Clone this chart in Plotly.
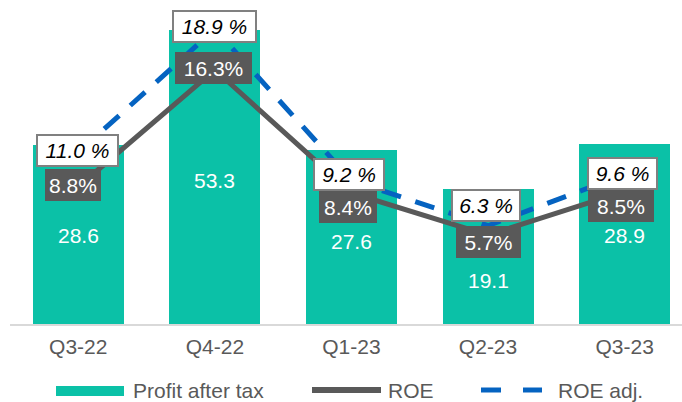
import plotly.graph_objects as go

# ---- data ----
quarters = ["Q3-22", "Q4-22", "Q1-23", "Q2-23", "Q3-23"]
profit_after_tax = [28.6, 53.3, 27.6, 19.1, 28.9]
roe = [8.8, 16.3, 8.4, 5.7, 8.5]
roe_adj = [11.0, 18.9, 9.2, 6.3, 9.6]

# ---- style ----
W, H = 682, 402
ML, MR, MT, MB = 10, 0, 0, 78
PLOT_W = W - ML - MR
PLOT_H = H - MT - MB
TEAL = "#0bc1a7"
DARK = "#595959"
BLUE = "#0563c1"
FONT = "Liberation Sans, Arial, sans-serif"
FS = 21

Y_MIN, Y_MAX = -9.8, 59.8        # primary axis (profit)
Y2_MAX = 20.77                   # secondary axis (%)
X_RANGE = [-0.5, 4.42]

# label placement tweaks (pixels / data units)
bar_label_y = [9.3, 21.1, 8.0, -0.35, 9.3]
roe_shift_y = [2, 2, -14, -7, -15]
roe_shift_x = [-5, -1, -3, 0, -4]
roe_box_w = [56, 77, 58, 65, 66]
adj_shift_y = [2, 3, 6, 20, 1]
adj_shift_x = [-1, 0, -2, -2, -2]
adj_box_w = [83, 85, 72, 70, 71]

idx = list(range(len(quarters)))

fig = go.Figure()
fig.add_trace(go.Bar(
    x=idx, y=[v - Y_MIN for v in profit_after_tax], base=Y_MIN,
    width=0.666, marker=dict(color=TEAL, line=dict(width=0)),
    name="Profit after tax", showlegend=False, hoverinfo="skip",
))
fig.add_trace(go.Scatter(
    x=idx, y=roe, yaxis="y2", mode="lines",
    line=dict(color=DARK, width=5), name="ROE", showlegend=False,
))
fig.add_trace(go.Scatter(
    x=idx, y=roe_adj, yaxis="y2", mode="lines",
    line=dict(color=BLUE, width=5, dash="20px,15px"), name="ROE adj.", showlegend=False,
))

ann = []
for i, v in enumerate(profit_after_tax):
    ann.append(dict(x=i, y=bar_label_y[i], xref="x", yref="y", text=f"{v:.1f}",
                    showarrow=False, font=dict(family=FONT, size=FS, color="white")))
for i, v in enumerate(roe):
    ann.append(dict(x=i, y=v, xref="x", yref="y2", text=f"{v:.1f}%",
                    showarrow=False, xshift=roe_shift_x[i], yshift=roe_shift_y[i],
                    font=dict(family=FONT, size=FS, color="white"),
                    bgcolor=DARK, borderwidth=0, borderpad=2,
                    width=roe_box_w[i] - 4, height=28))
for i, v in enumerate(roe_adj):
    ann.append(dict(x=i, y=v, xref="x", yref="y2", text=f"<i>{v:.1f} %</i>",
                    showarrow=False, xshift=adj_shift_x[i], yshift=adj_shift_y[i],
                    font=dict(family=FONT, size=FS, color="black"),
                    bgcolor="white", bordercolor="#808080", borderwidth=2, borderpad=1,
                    width=adj_box_w[i] - 6, height=27))

# ---- custom legend (pixel -> paper) ----
def px(xp):
    return (xp - ML) / PLOT_W

def py(yp):
    return (MT + PLOT_H - yp) / PLOT_H

LEG_Y = 390
shapes = [
    dict(type="rect", xref="paper", yref="paper", x0=px(56), x1=px(124),
         y0=py(396), y1=py(386), fillcolor=TEAL, line=dict(width=0)),
    dict(type="line", xref="paper", yref="paper", x0=px(312), x1=px(381),
         y0=py(LEG_Y), y1=py(LEG_Y), line=dict(color=DARK, width=6)),
    dict(type="line", xref="paper", yref="paper", x0=px(481), x1=px(501),
         y0=py(LEG_Y), y1=py(LEG_Y), line=dict(color=BLUE, width=5)),
    dict(type="line", xref="paper", yref="paper", x0=px(523), x1=px(542),
         y0=py(LEG_Y), y1=py(LEG_Y), line=dict(color=BLUE, width=5)),
]
for label, xl in [("Profit after tax", 131), ("ROE", 386), ("ROE adj.", 556)]:
    ann.append(dict(x=px(xl), y=py(LEG_Y), xref="paper", yref="paper", text=label,
                    showarrow=False, xanchor="left", yanchor="middle",
                    font=dict(family=FONT, size=FS, color=DARK)))

fig.update_layout(
    width=W, height=H,
    margin=dict(l=ML, r=MR, t=MT, b=MB, pad=0),
    paper_bgcolor="white", plot_bgcolor="white",
    showlegend=False,
    bargap=0,
    xaxis=dict(range=X_RANGE, tickmode="array", tickvals=idx, ticktext=quarters,
               showgrid=False, zeroline=False, showline=True, linecolor="#d9d9d9",
               linewidth=2, ticks="", ticklabelstandoff=3,
               tickfont=dict(family=FONT, size=FS, color=DARK),
               fixedrange=True),
    yaxis=dict(range=[Y_MIN, Y_MAX], visible=False, showgrid=False, zeroline=False),
    yaxis2=dict(range=[0, Y2_MAX], overlaying="y", visible=False, showgrid=False,
                zeroline=False),
    annotations=ann,
    shapes=shapes,
)

fig.write_html(
    "out.html",
    config={"displayModeBar": False},
    post_script="document.body.style.margin='0';document.body.style.overflow='hidden';",
)
